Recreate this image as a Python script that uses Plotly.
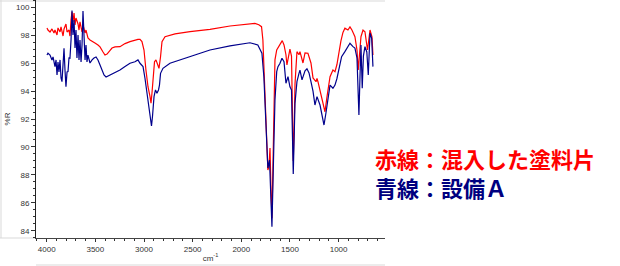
import plotly.graph_objects as go

# Red spectrum: contaminating paint chip (wavenumber cm-1, %R)
red_wn = [3997, 3987, 3966, 3946, 3925, 3915, 3894, 3884, 3863, 3853, 3832, 3822, 3802, 3791,
          3771, 3761, 3750, 3740, 3730, 3719, 3709, 3699, 3678, 3668, 3658, 3637, 3627, 3606,
          3596, 3576, 3555, 3534, 3504, 3473, 3452, 3421, 3401, 3380, 3360, 3329, 3298, 3247,
          3195, 3144, 3062, 3041, 3021, 3000, 2980, 2959, 2938, 2928, 2918, 2908, 2892, 2877,
          2862, 2846, 2830, 2815, 2784, 2681, 2527, 2322, 2116, 1911, 1860, 1820, 1792, 1778,
          1768, 1757, 1747, 1737, 1727, 1716, 1705, 1695, 1685, 1675, 1664, 1654, 1636, 1602,
          1579, 1561, 1541, 1531, 1510, 1500, 1484, 1472, 1466, 1456, 1448, 1428, 1407, 1397,
          1366, 1345, 1315, 1284, 1263, 1232, 1222, 1212, 1191, 1171, 1140, 1119, 1088, 1058,
          1037, 1017, 996, 976, 955, 935, 904, 883, 863, 832, 811, 798, 770, 749, 729, 703,
          677, 657, 647]
red_r = [98.52, 98.37, 98.23, 98.45, 98.16, 98.37, 98.02, 98.52, 98.23, 98.59, 97.94, 98.45, 98.80, 98.23,
         98.37, 97.94, 99.09, 99.68, 98.95, 99.59, 98.73, 99.23, 98.80, 98.37, 98.95, 98.23, 98.73, 98.16,
         98.37, 97.80, 97.66, 97.59, 97.44, 97.30, 97.16, 96.80, 96.58, 96.65, 96.80, 97.08, 97.16, 97.18,
         97.40, 97.54, 97.70, 97.71, 97.54, 96.94, 95.51, 94.31, 93.60, 93.14, 93.86, 95.03, 96.10, 96.23,
         95.87, 95.63, 96.46, 97.54, 97.89, 98.09, 98.25, 98.42, 98.66, 98.80, 98.85, 98.75, 98.61, 97.66,
         95.90, 93.86, 91.90, 90.28, 88.35, 88.60, 89.92, 87.00, 84.90, 88.50, 92.64, 96.23, 96.94, 97.30,
         97.61, 97.30, 96.60, 95.87, 96.60, 97.01, 96.50, 92.00, 89.00, 91.50, 94.50, 96.82, 96.60, 96.82,
         96.01, 96.73, 96.71, 96.01, 94.94, 94.67, 94.90, 94.67, 94.08, 93.36, 92.52, 93.60, 95.03, 95.51,
         95.39, 95.90, 96.80, 97.60, 98.20, 98.50, 98.37, 98.59, 98.37, 97.89, 96.94, 95.51, 97.89, 98.37,
         98.25, 96.94, 98.37, 97.89, 96.58]

# Blue spectrum: equipment A
blue_wn = [3997, 3987, 3966, 3946, 3935, 3915, 3904, 3894, 3884, 3874, 3863, 3853, 3843, 3832,
           3822, 3812, 3802, 3791, 3781, 3771, 3761, 3750, 3740, 3730, 3719, 3709, 3699, 3689,
           3678, 3668, 3658, 3647, 3637, 3627, 3617, 3606, 3596, 3586, 3576, 3555, 3534, 3514,
           3493, 3473, 3452, 3432, 3411, 3390, 3370, 3349, 3298, 3247, 3195, 3144, 3093, 3062,
           3041, 3010, 2990, 2969, 2949, 2933, 2923, 2913, 2897, 2882, 2867, 2851, 2841, 2830,
           2805, 2733, 2630, 2527, 2425, 2322, 2116, 1911, 1830, 1788, 1768, 1747, 1727, 1710,
           1695, 1685, 1669, 1654, 1636, 1623, 1602, 1582, 1561, 1541, 1520, 1500, 1484, 1466,
           1448, 1428, 1407, 1397, 1376, 1345, 1325, 1304, 1284, 1263, 1243, 1222, 1191, 1171,
           1150, 1130, 1109, 1088, 1058, 1037, 1017, 996, 969, 935, 904, 883, 852, 832, 811,
           799, 791, 780, 770, 757, 745, 729, 710, 695, 677, 660, 647]
blue_r = [96.58, 96.71, 96.58, 96.23, 96.44, 95.75, 96.23, 95.15, 96.08, 95.37, 96.23, 94.94, 94.67, 95.87,
          97.06, 95.51, 94.31, 95.37, 95.39, 96.37, 96.35, 97.66, 99.77, 98.02, 99.09, 97.08, 98.37, 96.37,
          98.02, 96.23, 97.66, 96.08, 97.30, 99.73, 97.66, 96.23, 97.30, 96.08, 96.58, 96.01, 96.23, 96.37,
          96.44, 96.23, 95.87, 95.51, 95.15, 95.01, 95.08, 95.15, 95.30, 95.51, 95.75, 95.99, 96.10, 96.23,
          95.99, 95.75, 94.92, 93.95, 92.88, 91.93, 91.50, 92.16, 93.60, 94.08, 93.84, 94.08, 94.43, 95.27,
          95.63, 95.99, 96.23, 96.46, 96.71, 96.94, 97.23, 97.46, 97.30, 96.71, 95.03, 91.93, 88.49, 89.06,
          86.70, 84.28, 89.06, 93.36, 95.39, 95.75, 95.99, 96.35, 96.10, 94.56, 95.03, 94.31, 94.08, 88.06,
          93.14, 94.67, 95.27, 95.50, 94.80, 95.45, 95.60, 95.30, 94.67, 94.00, 93.00, 93.60, 93.00, 92.28,
          91.57, 92.43, 93.50, 94.43, 94.20, 94.43, 94.90, 95.60, 96.46, 96.82, 97.18, 97.42, 97.18, 97.08, 96.37,
          94.50, 92.28, 95.00, 97.30, 94.20, 96.50, 97.18, 96.80, 95.15, 98.14, 97.78, 95.75]

x_ticks = [4000, 3500, 3000, 2500, 2000, 1500, 1000]
y_ticks = [84, 86, 88, 90, 92, 94, 96, 98, 100]
label_red = "赤線：混入した塗料片"
label_blue = "青線：設備Ａ"

fig = go.Figure()
fig.add_trace(go.Scatter(x=red_wn, y=red_r, mode="lines",
                         line=dict(color="#ff0000", width=1.2), hoverinfo="skip"))
fig.add_trace(go.Scatter(x=blue_wn, y=blue_r, mode="lines",
                         line=dict(color="#00008c", width=1.2), hoverinfo="skip"))

axis_font = dict(family="Liberation Sans, Arial, sans-serif", size=8, color="#333333")
fig.update_layout(
    width=620, height=266,
    margin=dict(l=36, r=235, t=0, b=28),
    paper_bgcolor="white", plot_bgcolor="white",
    showlegend=False,
    xaxis=dict(range=[4110, 523], tickvals=x_ticks, ticks="outside", ticklen=3,
               tickcolor="#333", showline=True, linecolor="#444", linewidth=1,
               showgrid=False, zeroline=False, tickfont=axis_font,
               minor=dict(dtick=100, ticks="outside", ticklen=2, tickcolor="#333"),
               title=dict(text="cm<sup>-1</sup>", font=axis_font, standoff=2)),
    yaxis=dict(range=[83.48, 100.52], tickvals=y_ticks, ticks="outside", ticklen=4,
               tickcolor="#333", showline=True, linecolor="#222", linewidth=1,
               showgrid=False, zeroline=False, tickfont=axis_font,
               minor=dict(dtick=0.5, ticks="outside", ticklen=2, tickcolor="#333"),
               title=dict(text="%R", font=axis_font, standoff=4)),
)

fig.add_annotation(text=label_red, xref="paper", yref="paper", x=0.9656, y=0.338,
                   xanchor="left", yanchor="middle", showarrow=False,
                   font=dict(family="Noto Sans CJK JP", size=22, color="#ff0000", weight="bold"))
fig.add_annotation(text=label_blue, xref="paper", yref="paper", x=0.9656, y=0.214,
                   xanchor="left", yanchor="middle", showarrow=False,
                   font=dict(family="Noto Sans CJK JP", size=22, color="#000080", weight="bold"))

# light frame of the original screenshot
frame = "#d9d9d9"
for x0, y0, x1, y1 in [(0, 1, 385, 1), (1, 0, 1, 238), (0, 238, 36, 238), (36, 265, 385, 265)]:
    fig.add_shape(type="line", xref="paper", yref="paper",
                  x0=(x0 - 36) / 349, x1=(x1 - 36) / 349,
                  y0=(238 - y0) / 238, y1=(238 - y1) / 238,
                  line=dict(color=frame, width=1), layer="below")

fig.write_html("out.html", config={"displayModeBar": False})
